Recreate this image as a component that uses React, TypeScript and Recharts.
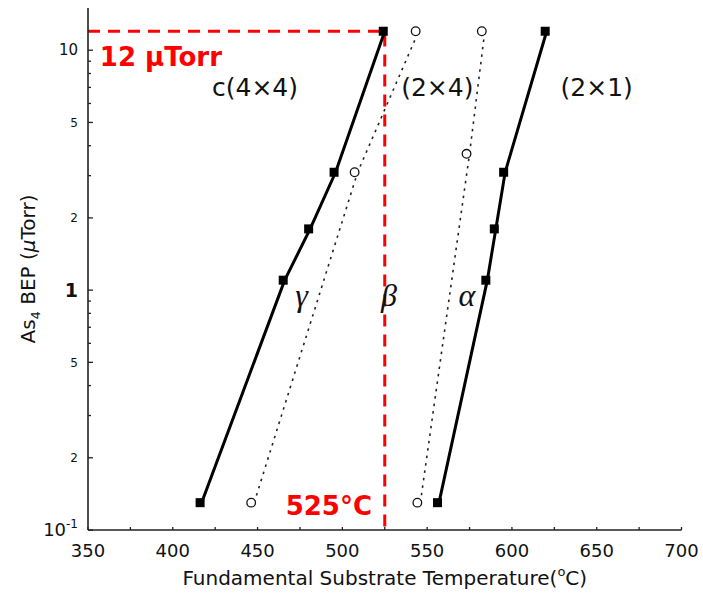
import { LineChart, Line, XAxis, YAxis, ReferenceDot } from 'recharts';

// As4 BEP (μTorr) against substrate temperature (°C)
const gammaTemp = [417, 466, 481, 496, 525];
const gammaBep = [0.13, 1.1, 1.8, 3.1, 12];
const betaTemp = [448, 509, 545];
const betaBep = [0.13, 3.1, 12];
const alphaTemp = [546, 575, 584];
const alphaBep = [0.13, 3.7, 12];
const edgeTemp = [557, 585.5, 590.5, 596, 620.5];
const edgeBep = [0.13, 1.1, 1.8, 3.1, 12];

// red guide: 12 μTorr across, then down at 525 °C
const guideTemp = [350, 525, 525];
const guideBep = [12, 12, 0.1];

const xTicks = [350, 375, 400, 425, 450, 475, 500, 525, 550, 575, 600, 625, 650, 675, 700];
const xTickLabels = [350, 400, 450, 500, 550, 600, 650, 700];
const yMajor = [0.1, 0.2, 0.5, 1, 2, 5, 10];
const yMajorText = ['10^-1', '2', '5', '1', '2', '5', '10'];
const yMinor = [0.3, 0.4, 0.6, 0.7, 0.8, 0.9, 3, 4, 6, 7, 8, 9];
const yTicks = [...yMajor, ...yMinor].sort((a, b) => a - b);

// text anchors in data units
const phaseNames = ['c(4×4)', '(2×4)', '(2×1)'];
const phaseTemp = [448.5, 556, 650];
const phaseBep = [7, 7, 7];
const greekNames = ['γ', 'β', 'α'];
const greekTemp = [476, 527.5, 573.5];
const greekBep = [0.86, 0.86, 0.86];

const toRows = (t: number[], p: number[]) => t.map((v, i) => ({ t: v, p: p[i] }));

const sans = 'DejaVu Sans, sans-serif';
const ink = '#111';

const Square = ({ cx, cy }: any) =>
  cx == null ? null : <rect x={cx - 6} y={cy - 4.5} width={9} height={9} fill="#000" />;

const Ring = ({ cx, cy }: any) =>
  cx == null ? null : <circle cx={cx - 3} cy={cy} r={4.3} fill="#fff" stroke={ink} strokeWidth={1.3} />;

const BottomTick = ({ x, y, payload }: any) => {
  const v = payload.value;
  return (
    <g>
      <line x1={x} x2={x} y1={y} y2={y - 3} stroke="#222" strokeWidth={1.3} />
      {xTickLabels.includes(v) && (
        <text x={x} y={y + 27} textAnchor="middle" fontSize={18} fontFamily={sans} fill={ink}>
          {v}
        </text>
      )}
    </g>
  );
};

const TopTick = ({ x, y }: any) => <line x1={x} x2={x} y1={y} y2={y + 3} stroke="#222" strokeWidth={1.3} />;

const LeftTick = ({ x, y, payload }: any) => {
  const i = yMajor.indexOf(payload.value);
  const label = i >= 0 ? yMajorText[i] : null;
  let text = null;
  if (label === '10^-1') {
    text = (
      <text x={x - 10} y={y} dy="0.35em" textAnchor="end" fontSize={18} fontFamily={sans} fill={ink}>
        10<tspan dy={-8} fontSize={12}>-1</tspan>
      </text>
    );
  } else if (label) {
    const size = label === '1' ? 19 : label === '10' ? 15 : 12;
    text = (
      <text
        x={x - 10}
        y={y}
        dy="0.35em"
        textAnchor="end"
        fontSize={size}
        fontWeight={label === '1' ? 'bold' : 'normal'}
        fontFamily={sans}
        fill={ink}
      >
        {label}
      </text>
    );
  }
  return (
    <g>
      <line x1={x} x2={x + (i >= 0 ? 5 : 3)} y1={y} y2={y} stroke="#222" strokeWidth={1.3} />
      {text}
    </g>
  );
};

const RightTick = ({ x, y, payload }: any) => (
  <line x1={x} x2={x - (yMajor.includes(payload.value) ? 5 : 3)} y1={y} y2={y} stroke="#222" strokeWidth={1.3} />
);

const XTitle = ({ viewBox }: any) => (
  <text x={viewBox.x + viewBox.width / 2} y={viewBox.y + 55} textAnchor="middle" fontSize={20} fontFamily={sans} fill={ink}>
    Fundamental Substrate Temperature(
    <tspan dy={-9} fontSize={13}>o</tspan>
    <tspan dy={9}>C)</tspan>
  </text>
);

const YTitle = ({ viewBox }: any) => {
  const cx = 35;
  const cy = viewBox.y + viewBox.height / 2;
  return (
    <text x={cx} y={cy} transform={`rotate(-90 ${cx} ${cy})`} textAnchor="middle" fontSize={20} fontFamily={sans} fill={ink}>
      As<tspan dy={5} fontSize={13}>4</tspan>
      <tspan dy={-5}> BEP (</tspan>
      <tspan fontStyle="italic">μ</tspan>
      Torr)
    </text>
  );
};

const textShape = (label: string, style: any) => (p: any) =>
  (
    <text x={p.cx} y={p.cy} {...style}>
      {label}
    </text>
  );

const solid = { stroke: '#000', strokeWidth: 3 };
const dotted = { stroke: '#222', strokeWidth: 1.6, strokeDasharray: '2.5 5' };

export default function App() {
  return (
    <div style={{ position: 'absolute', left: 0, top: 0, background: '#fff' }}>
      <LineChart width={703} height={598} margin={{ top: 8, right: 21.5, bottom: 0, left: 0 }}>
        <XAxis
          type="number"
          dataKey="t"
          domain={[350, 700]}
          ticks={xTicks}
          interval={0}
          allowDataOverflow
          height={68}
          tickSize={0}
          tickMargin={0}
          tickLine={false}
          axisLine={{ stroke: '#222', strokeWidth: 1.6 }}
          tick={<BottomTick />}
          label={<XTitle />}
        />
        <XAxis
          xAxisId="top"
          orientation="top"
          type="number"
          dataKey="t"
          domain={[350, 700]}
          ticks={xTicks}
          interval={0}
          allowDataOverflow
          height={0}
          tickSize={0}
          tickMargin={0}
          tickLine={false}
          axisLine={{ stroke: '#222', strokeWidth: 1.6 }}
          tick={<TopTick />}
        />
        <YAxis
          type="number"
          scale="log"
          domain={[0.1, 15]}
          ticks={yTicks}
          interval={0}
          allowDataOverflow
          width={88}
          tickSize={0}
          tickMargin={0}
          tickLine={false}
          axisLine={{ stroke: '#222', strokeWidth: 1.6 }}
          tick={<LeftTick />}
          label={<YTitle />}
        />
        <YAxis
          yAxisId="right"
          orientation="right"
          type="number"
          scale="log"
          domain={[0.1, 15]}
          ticks={yTicks}
          interval={0}
          allowDataOverflow
          width={0}
          tickSize={0}
          tickMargin={0}
          tickLine={false}
          axisLine={{ stroke: '#222', strokeWidth: 1.6 }}
          tick={<RightTick />}
        />

        <Line
          data={toRows(guideTemp, guideBep)}
          dataKey="p"
          stroke="#ff0000"
          strokeWidth={3}
          strokeDasharray="12 8"
          dot={false}
          isAnimationActive={false}
        />
        <Line data={toRows(betaTemp, betaBep)} dataKey="p" {...dotted} dot={<Ring />} isAnimationActive={false} />
        <Line data={toRows(alphaTemp, alphaBep)} dataKey="p" {...dotted} dot={<Ring />} isAnimationActive={false} />
        <Line data={toRows(gammaTemp, gammaBep)} dataKey="p" {...solid} dot={<Square />} isAnimationActive={false} />
        <Line data={toRows(edgeTemp, edgeBep)} dataKey="p" {...solid} dot={<Square />} isAnimationActive={false} />

        {phaseNames.map((n, i) => (
          <ReferenceDot
            key={n}
            x={phaseTemp[i]}
            y={phaseBep[i]}
            r={0}
            shape={textShape(n, { textAnchor: 'middle', dy: '0.35em', fontSize: 25, fontFamily: sans, fill: ink })}
          />
        ))}
        {greekNames.map((n, i) => (
          <ReferenceDot
            key={n}
            x={greekTemp[i]}
            y={greekBep[i]}
            r={0}
            shape={textShape(n, {
              textAnchor: 'middle',
              fontSize: 32,
              fontStyle: 'italic',
              fontFamily: 'Liberation Serif, serif',
              fill: ink,
            })}
          />
        ))}
        <ReferenceDot
          x={357}
          y={8.6}
          r={0}
          shape={textShape('12 μTorr', { textAnchor: 'start', fontSize: 26, fontWeight: 'bold', fontFamily: sans, fill: '#ff0000' })}
        />
        <ReferenceDot
          x={517.5}
          y={0.1155}
          r={0}
          shape={textShape('525°C', { textAnchor: 'end', fontSize: 26, fontWeight: 'bold', fontFamily: sans, fill: '#ff0000' })}
        />
      </LineChart>
    </div>
  );
}
